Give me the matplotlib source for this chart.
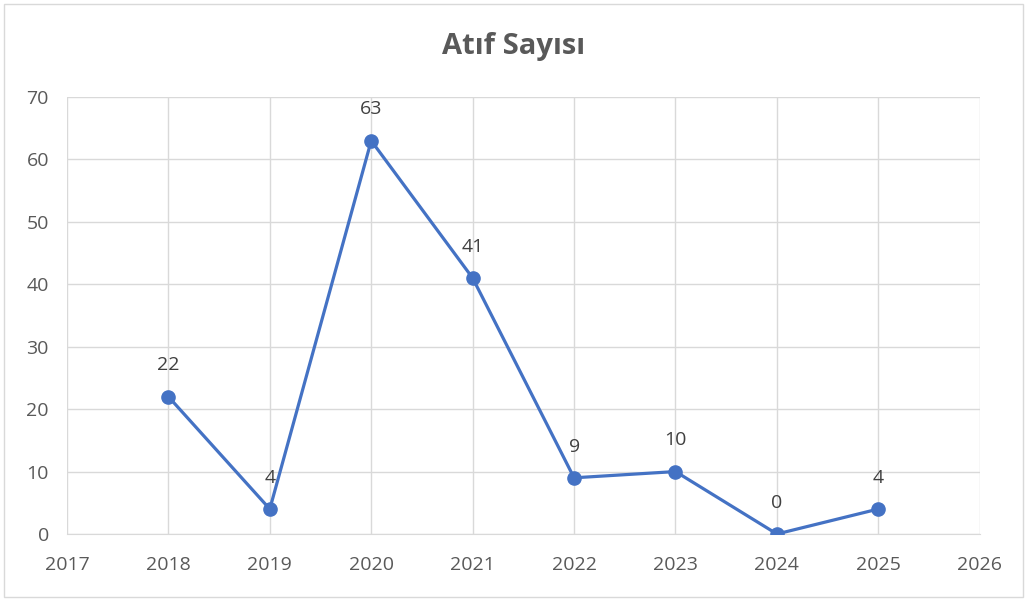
import matplotlib.pyplot as plt
from matplotlib.patches import Rectangle

years = [2018, 2019, 2020, 2021, 2022, 2023, 2024, 2025]
citations = [22, 4, 63, 41, 9, 10, 0, 4]
x_ticks = list(range(2017, 2027))
y_ticks = list(range(0, 71, 10))

plt.rcParams['font.family'] = ['Open Sans', 'DejaVu Sans']
text_color = "#595959"
line_color = "#4472C4"

fig = plt.figure(figsize=(10.27, 6.01), dpi=100)
ax = fig.add_axes([0.0652, 0.1115, 0.8888, 0.7271])

ax.plot(years, citations, color=line_color, linewidth=2.3,
        marker="o", markersize=9.5, zorder=3)

# Data labels above points
for x, y in zip(years, citations):
    ax.annotate(str(y), (x, y), xytext=(0, 16), textcoords="offset points",
                ha="center", va="bottom", fontsize=14, color="#404040")

ax.set_xlim(2017, 2026)
ax.set_ylim(0, 70)
ax.set_xticks(x_ticks)
ax.set_yticks(y_ticks)
ax.grid(True, color="#d9d9d9", linewidth=1)
ax.set_axisbelow(True)
for side in ["top", "right", "left"]:
    ax.spines[side].set_visible(False)
ax.spines["bottom"].set_color("#d9d9d9")
ax.tick_params(length=0, labelsize=14, labelcolor=text_color)
ax.tick_params(axis="x", pad=16)
ax.tick_params(axis="y", pad=13)

fig.text(0.5, 0.922, "Atıf Sayısı", ha="center", va="center",
         fontsize=21, fontweight="bold", color=text_color)

# Outer chart border
fig.patches.append(Rectangle((0.004, 0.007), 0.992, 0.986, transform=fig.transFigure,
                             fill=False, edgecolor="#d9d9d9", linewidth=1))

fig.savefig("out.png", dpi=100)
plt.close(fig)
